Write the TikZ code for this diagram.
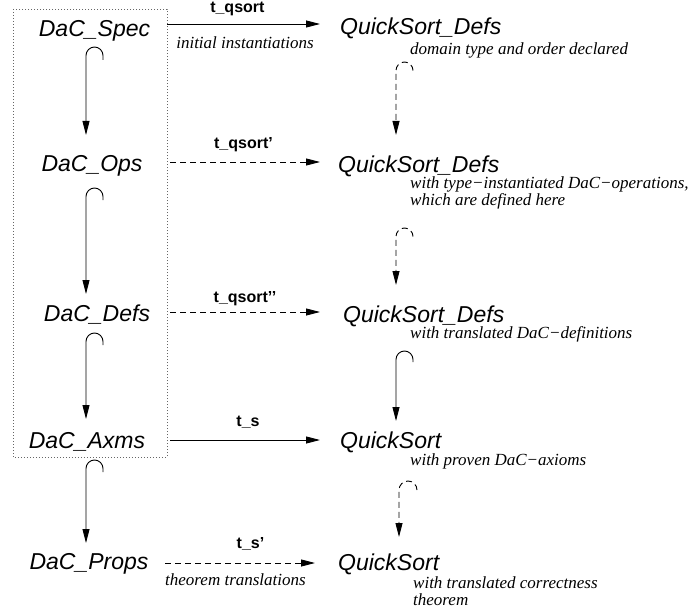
\documentclass[tikz,border=0pt]{standalone}
\usepackage{fontspec}
\setmainfont{Liberation Serif}
\newfontfamily\helv{Liberation Sans}
\usetikzlibrary{arrows.meta}

\begin{document}
\begin{tikzpicture}[x=1pt, y=1pt,
    module/.style={font=\helv\itshape\fontsize{23}{27}\selectfont, inner sep=0pt, anchor=base},
    morph/.style={font=\helv\bfseries\fontsize{16}{19}\selectfont, inner sep=0pt, anchor=base},
    note/.style={font=\itshape\fontsize{17}{17}\selectfont, inner sep=0pt, align=left, anchor=base west},
    arr/.style={-{Triangle[length=14pt,width=7pt]}, line width=0.9pt},
    darr/.style={arr, dash pattern=on 6pt off 4pt}]
    \useasboundingbox (0,0) rectangle (693,-615);

    % Dotted frame round the DaC theories
    \draw[black!60, line width=0.6pt, dash pattern=on 0.8pt off 2.2pt] (13,-9) rectangle (167,-457);

    % DaC theories on the left
    \node[module] (spec)  at (94.5,-37) {DaC\_Spec};
    \node[module] (ops)   at (92,-171)  {DaC\_Ops};
    \node[module] (defs)  at (97,-321)  {DaC\_Defs};
    \node[module] (axms)  at (87,-448)  {DaC\_Axms};
    \node[module] (props) at (89,-569)  {DaC\_Props};

    % QuickSort theories on the right
    \node[module, anchor=base west] (qdefsA) at (340,-35)  {QuickSort\_Defs};
    \node[module, anchor=base west] (qdefsB) at (338,-172) {QuickSort\_Defs};
    \node[module, anchor=base west] (qdefsC) at (343,-322) {QuickSort\_Defs};
    \node[module, anchor=base west] (qsortA) at (340,-448) {QuickSort};
    \node[module, anchor=base west] (qsortB) at (338,-570) {QuickSort};

    % Notes below the QuickSort theories (two-line notes sit on their last line)
    \node[note] (noteA) at (410,-55)  {domain type and order declared};
    \node[note] (noteB) at (410,-205) {with type−instantiated DaC−operations,\\which are defined here};
    \node[note] (noteC) at (410,-338) {with translated DaC−definitions};
    \node[note] (noteD) at (410,-465) {with proven DaC−axioms};
    \node[note] (noteE) at (413,-605) {with translated correctness\\theorem};

    % Imports inside the DaC hierarchy
    \draw[arr] ([shift={(8.5,-23)}]spec.base) -- ++(0,4.5) arc[start angle=0, end angle=180, radius=8.5]
        -- ([shift={(-6,36)}]ops.base);
    \draw[arr] ([shift={(11,-29)}]ops.base) -- ++(0,3.5) arc[start angle=0, end angle=180, radius=8.5]
        -- ([shift={(-11,27)}]defs.base);
    \draw[arr] ([shift={(6,-24)}]defs.base) -- ++(0,3.5) arc[start angle=0, end angle=180, radius=8.5]
        -- ([shift={(-1,29)}]axms.base);
    \draw[arr] ([shift={(16,-24)}]axms.base) -- ++(0,3.5) arc[start angle=0, end angle=180, radius=8.5]
        -- ([shift={(-3,26)}]props.base);

    % Imports inside the QuickSort hierarchy
    \draw[darr] ([shift={(73,-35.5)}]qdefsA.base west) arc[start angle=0, end angle=180, radius=8.5]
        -- ([shift={(58,37)}]qdefsB.base west);
    \draw[darr] ([shift={(75,-64.5)}]qdefsB.base west) arc[start angle=0, end angle=180, radius=8.5]
        -- ([shift={(53,37)}]qdefsC.base west);
    \draw[arr] ([shift={(70,-40)}]qdefsC.base west) -- ++(0,2.5) arc[start angle=0, end angle=180, radius=8.5]
        -- ([shift={(56,27)}]qsortA.base west);
    \draw[darr] ([shift={(77,-42)}]qsortA.base west) arc[start angle=0, end angle=180, radius=9]
        -- ([shift={(61,33)}]qsortB.base west);

    % Theory morphisms from left to right
    \draw[arr] ([shift={(72.5,13)}]spec.base) -- ([shift={(-20,11)}]qdefsA.base west)
        node[morph, pos=0.46, yshift=11pt] (mA) {t\_qsort}
        node[note, anchor=base, pos=0.51, yshift=-25pt] (mAnote) {initial instantiations};
    \draw[darr] ([shift={(78,9)}]ops.base) -- ([shift={(-18,10)}]qdefsB.base west)
        node[morph, pos=0.49, yshift=13pt] (mB) {t\_qsort’};
    \draw[darr] ([shift={(73,9)}]defs.base) -- ([shift={(-23,10)}]qdefsC.base west)
        node[morph, pos=0.5, yshift=10pt] (mC) {t\_qsort’’};
    \draw[arr] ([shift={(83,8)}]axms.base) -- ([shift={(-20,8)}]qsortA.base west)
        node[morph, pos=0.52, yshift=14pt] (mD) {t\_s};
    \draw[darr] ([shift={(76,6)}]props.base) -- ([shift={(-23,7)}]qsortB.base west)
        node[morph, pos=0.57, yshift=15pt] (mE) {t\_s’}
        node[note, anchor=base, pos=0.47, yshift=-22pt] (mEnote) {theorem translations};
\end{tikzpicture}
\end{document}
